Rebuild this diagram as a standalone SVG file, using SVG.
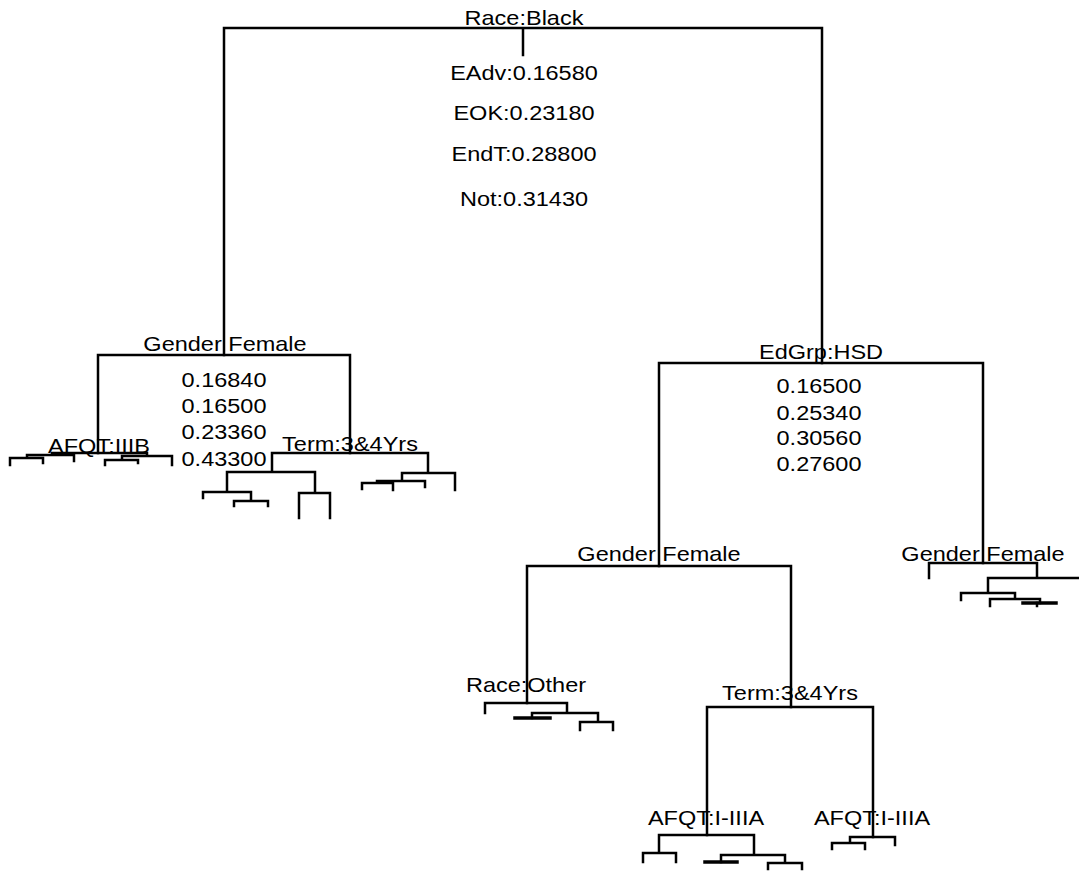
<svg xmlns="http://www.w3.org/2000/svg" width="1079" height="871" viewBox="0 0 1079 871">
<style>
.t{font-family:"Liberation Sans",Arial,sans-serif;font-size:21px;fill:#000;text-anchor:middle}
.c{fill:none;stroke:#000;stroke-width:2.5;stroke-linecap:square}
.k{stroke-width:3.5}
</style>
<rect width="1079" height="871" fill="#fff"/>
<g id="connectors" class="c">
<path d="M224,28H822M523,28V55M224,28V355M822,28V363"/>
<path d="M98,355H350M98,355V453M350,355V453"/>
<path d="M52,453H147M52,453V455M27,455H74M74,455V461M27,455V458M10,458H43M10,458V465M43,458V463M147,453V456M122,456H172M172,456V465M122,456V460M105,460H138M105,460V465M138,460V463"/>
<path d="M272,453H428M272,453V472M227,472H315M227,472V492M203,492H251M203,492V498M251,492V501M234,501H268M234,501V506M268,501V506M315,472V493M299,493H330M299,493V518M330,493V518M428,453V473M402,473H455M455,473V490M402,473V481M377,481H425M425,481V487M377,481V483M362,483H393M362,483V489M393,483V490"/>
<path d="M659,363H983M659,363V566M983,363V563"/>
<path d="M527,566H791M527,566V703M791,566V707"/>
<path d="M485,703H567M485,703V713M567,703V713M532,713H598M532,713V718M598,713V722M580,722H613M580,722V730M613,722V730"/>
<path class="k" d="M515,718H550"/>
<path d="M707,707H873M707,707V835M873,707V837"/>
<path d="M659,835H754M659,835V853M643,853H676M643,853V862M676,853V862M754,835V855M721,855H785M721,855V862M785,855V863M768,863H802M768,863V869M802,863V869"/>
<path class="k" d="M705,862H737"/>
<path d="M850,837H895M850,837V843M832,843H865M832,843V849M865,843V849M895,837V845"/>
<path d="M929,563H1037M929,563V578M1037,563V578M988,578H1086M988,578V593M961,593H1015M961,593V600M1015,593V599M990,599H1040M990,599V606M1040,599V603M1037,603V606"/>
<path class="k" d="M1023,603H1056"/>
</g>
<g id="n-race-black">
<text class="t" transform="translate(524 25) scale(1.12 1)">Race:Black</text>
<text class="t" transform="translate(524 80) scale(1.12 1)">EAdv:0.16580</text>
<text class="t" transform="translate(524 120) scale(1.12 1)">EOK:0.23180</text>
<text class="t" transform="translate(524 161) scale(1.12 1)">EndT:0.28800</text>
<text class="t" transform="translate(524 206) scale(1.12 1)">Not:0.31430</text>
</g>
<g id="n-gender-left">
<text class="t" transform="translate(225 351) scale(1.12 1)">Gender Female</text>
<text class="t" transform="translate(224 387) scale(1.12 1)">0.16840</text>
<text class="t" transform="translate(224 413) scale(1.12 1)">0.16500</text>
<text class="t" transform="translate(224 439) scale(1.12 1)">0.23360</text>
<text class="t" transform="translate(224 466) scale(1.12 1)">0.43300</text>
</g>
<g id="n-afqt-iiib">
<text class="t" transform="translate(99 453) scale(1.12 1)">AFQT:IIIB</text>
</g>
<g id="n-term-left">
<text class="t" transform="translate(350 451) scale(1.12 1)">Term:3&amp;4Yrs</text>
</g>
<g id="n-edgrp">
<text class="t" transform="translate(821 359) scale(1.12 1)">EdGrp:HSD</text>
<text class="t" transform="translate(819 393) scale(1.12 1)">0.16500</text>
<text class="t" transform="translate(819 420) scale(1.12 1)">0.25340</text>
<text class="t" transform="translate(819 445) scale(1.12 1)">0.30560</text>
<text class="t" transform="translate(819 471) scale(1.12 1)">0.27600</text>
</g>
<g id="n-gender-mid">
<text class="t" transform="translate(659 561) scale(1.12 1)">Gender Female</text>
</g>
<g id="n-gender-right">
<text class="t" transform="translate(983 561) scale(1.12 1)">Gender Female</text>
</g>
<g id="n-race-other">
<text class="t" transform="translate(526 692) scale(1.12 1)">Race:Other</text>
</g>
<g id="n-term-lower">
<text class="t" transform="translate(790 700) scale(1.12 1)">Term:3&amp;4Yrs</text>
</g>
<g id="n-afqt-left">
<text class="t" transform="translate(706 825) scale(1.12 1)">AFQT:I-IIIA</text>
</g>
<g id="n-afqt-right">
<text class="t" transform="translate(872 825) scale(1.12 1)">AFQT:I-IIIA</text>
</g>
</svg>
